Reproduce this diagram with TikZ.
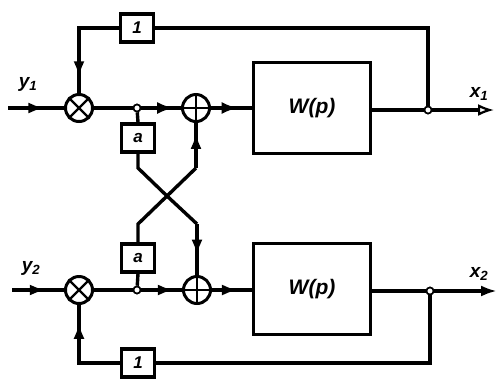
\documentclass[tikz,border=0pt]{standalone}
\usepackage{fontspec}
\setmainfont{Liberation Sans}
\usetikzlibrary{arrows.meta,decorations.markings}
\begin{document}
\begin{tikzpicture}[x=1pt,y=-1pt,
 line width=3.4pt,
 blk/.style={draw, rectangle, line width=3.2pt, inner sep=0pt},
 smallblk/.style={blk, minimum width=33pt, minimum height=28pt, font=\bfseries\itshape\fontsize{17}{18}\selectfont},
 bigblk/.style={blk, minimum width=117pt, minimum height=91pt, font=\bfseries\itshape\fontsize{21}{22}\selectfont},
 sumc/.style={draw, circle, minimum size=27pt, inner sep=0pt, line width=3pt},
 dotj/.style={circle, fill=white, draw, minimum size=7pt, inner sep=0pt, line width=1.6pt},
 marrow/.style={postaction={decorate}, decoration={markings, mark=at position #1 with {\arrow{Latex[length=16pt,width=11pt]}}}},
 oarrow/.style={postaction={decorate}, decoration={markings, mark=at position #1 with {\arrow{Latex[open,length=16pt,width=12pt,line width=2.2pt]}}}},
 lbl/.style={font=\bfseries\itshape\fontsize{19}{20}\selectfont}
]
\useasboundingbox (0,0) rectangle (498,384);

% ---------- top channel ----------
\coordinate (in1) at (8,108);
\node[sumc] (m1) at (79,108) {};
\node[dotj] (j1) at (137,108) {};
\node[sumc] (s1) at (196,108) {};
\node[bigblk] (W1) at (312,108) {W(p)};
\node[dotj] (o1) at (428,110) {};
\coordinate (e1) at (494,110);
\node[smallblk] (f1) at (137,28) {1};
\node[smallblk] (a1) at (138,138) {a};

% ---------- bottom channel ----------
\coordinate (in2) at (12,290);
\node[sumc] (m2) at (79,290) {};
\node[dotj] (j2) at (137,290) {};
\node[sumc] (s2) at (197,290) {};
\node[bigblk] (W2) at (312,289) {W(p)};
\node[dotj] (o2) at (430,291) {};
\coordinate (e2) at (497,291);
\node[smallblk] (f2) at (138,363) {1};
\node[smallblk] (a2) at (138,258) {a};

% cross points
\coordinate (X) at (167,196);
\coordinate (k1) at (138,168);
\coordinate (k2) at (196,168);
\coordinate (k3) at (138,224);
\coordinate (k4) at (197,224);

% ---------- top connectors ----------
\draw[marrow=0.65] (in1) -- (m1.west);
\draw (m1.east) -- (j1);
\draw[oarrow=0.8] (j1) -- (s1.west);
\draw[oarrow=0.65] (s1.east) -- (W1.west);
\draw (W1.east |- o1) -- (o1);
\draw[-{Latex[open,length=16pt,width=12pt,line width=2.2pt]}] (o1) -- (e1);
\draw (o1) -- (o1 |- f1) -- (f1.east);
\draw[marrow=0.85] (f1.west) -| (m1.north);
\draw (j1) -- (a1.north);

% ---------- cross ----------
\draw (a1.south) -- (k1) -- (X) -- (k4);
\draw[marrow=0.62] (k4) -- (s2.north);
\draw (a2.north) -- (k3) -- (X) -- (k2);
\draw[marrow=0.78] (k2) -- (s1.south);

% ---------- bottom connectors ----------
\draw[marrow=0.65] (in2) -- (m2.west);
\draw (m2.east) -- (j2);
\draw[marrow=0.8] (j2) -- (s2.west);
\draw[marrow=0.65] (s2.east) -- (W2.west |- s2);
\draw (W2.east |- o2) -- (o2);
\draw[-{Latex[length=16pt,width=11pt]}] (o2) -- (e2);
\draw (o2) -- (o2 |- f2) -- (f2.east);
\draw[marrow=0.82] (f2.west) -| (m2.south);
\draw (j2) -- (a2.south);

% redraw junction dots on top
\node[dotj] at (j1) {};
\node[dotj] at (o1) {};
\node[dotj] at (j2) {};
\node[dotj] at (o2) {};

% symbols inside circles
\draw[line width=2.4pt] (m1.north west) -- (m1.south east) (m1.north east) -- (m1.south west);
\draw[line width=2.4pt] (m2.north west) -- (m2.south east) (m2.north east) -- (m2.south west);
\draw[line width=2.6pt] (s1.north) -- (s1.south) (s1.west) -- (s1.east);
\draw[line width=2.6pt] (s2.north) -- (s2.south) (s2.west) -- (s2.east);

% labels
\node[lbl] (ly1) at (28,84) {y\textsubscript{1}};
\node[lbl] (ly2) at (31,268) {y\textsubscript{2}};
\node[lbl] (lx1) at (479,94) {x\textsubscript{1}};
\node[lbl] (lx2) at (479,274) {x\textsubscript{2}};
\end{tikzpicture}
\end{document}
